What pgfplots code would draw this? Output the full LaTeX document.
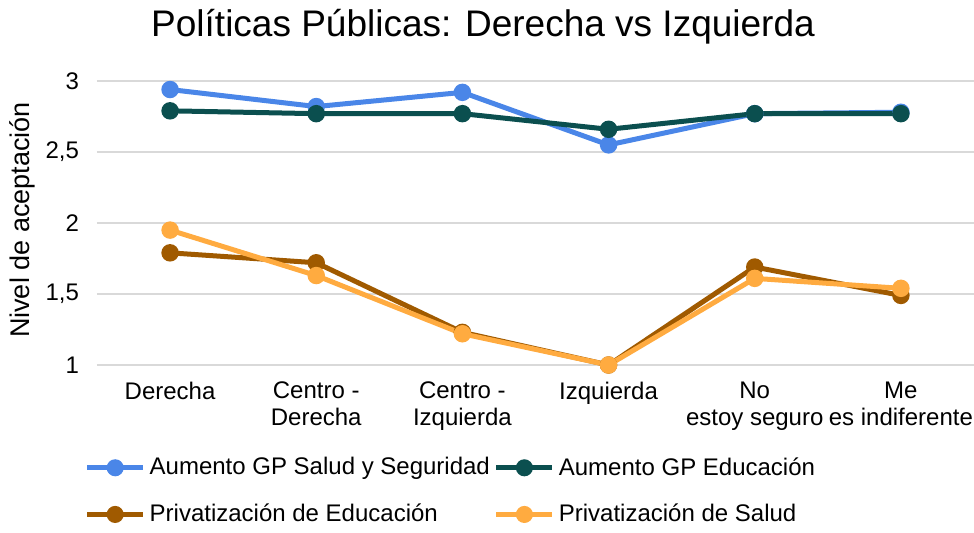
\documentclass[border=0pt]{standalone}
\usepackage{fontspec}
\setmainfont{Liberation Sans}
\usepackage{pgfplots}
\pgfplotsset{compat=1.18}
\definecolor{cblue}{HTML}{4A86E8}
\definecolor{cgreen}{HTML}{0B4F4F}
\definecolor{cbrown}{HTML}{A05A00}
\definecolor{corange}{HTML}{FFAB40}
\begin{document}
\begin{tikzpicture}[x=1pt,y=1pt]
\path[use as bounding box] (0,0) rectangle (487,266);
\node at (241.5,252.5) {\fontsize{18.5}{20}\selectfont Políticas Públicas: Derecha vs Izquierda};
\begin{axis}[
  at={(48.5pt,83.5pt)}, anchor=south west,
  scale only axis, width=438.5pt, height=142pt,
  xmin=-0.5, xmax=5.5, ymin=1, ymax=3,
  clip=false,
  axis line style={draw=none},
  major tick length=0pt,
  ytick={1,1.5,2,2.5,3},
  xtick={0,1,2,3,4,5},
  xticklabels={Derecha,{Centro -\\Derecha},{Centro -\\Izquierda},Izquierda,{No\\estoy seguro},{Me\\es indiferente}},
  xticklabel style={align=center, font=\fontsize{12}{13.5}\selectfont, anchor=north, yshift=-5pt},
  yticklabel style={font=\fontsize{12}{13.5}\selectfont, anchor=east, xshift=-5.5pt},
  /pgf/number format/assume math mode=true,
  /pgf/number format/use comma,
  ymajorgrids,
  grid style={color=black!15, line width=0.8pt},
  ylabel={Nivel de aceptación},
  ylabel style={font=\fontsize{13.5}{15}\selectfont, at={(axis description cs:-0.0855,0.51)}, anchor=center},
  every axis plot/.append style={line width=2.5pt, mark=*, mark size=3.1pt, mark options={solid}},
  legend columns=2,
  legend cell align=left,
  legend style={at={(axis description cs:-0.0145,-0.31)}, anchor=north west, draw=none, fill=none,
    font=\fontsize{12}{13.5}\selectfont, row sep=9pt, inner sep=0pt,
    /tikz/every even column/.append style={column sep=0pt},
    /tikz/every odd column/.append style={column sep=0pt}},
  legend image code/.code={\draw[mark repeat=2,mark phase=2, mark size=3pt] plot coordinates {(0pt,0pt)(14pt,0pt)(28pt,0pt)};},
]
\addplot[color=cblue] coordinates {(0,2.94) (1,2.82) (2,2.92) (3,2.55) (4,2.77) (5,2.78)};
\addlegendentry{Aumento GP Salud y Seguridad}
\addplot[color=cgreen] coordinates {(0,2.79) (1,2.77) (2,2.77) (3,2.66) (4,2.77) (5,2.77)};
\addlegendentry{Aumento GP Educación}
\addplot[color=cbrown] coordinates {(0,1.79) (1,1.72) (2,1.23) (3,1.00) (4,1.69) (5,1.49)};
\addlegendentry{Privatización de Educación}
\addplot[color=corange] coordinates {(0,1.95) (1,1.63) (2,1.22) (3,1.00) (4,1.61) (5,1.54)};
\addlegendentry{Privatización de Salud}
\end{axis}
\end{tikzpicture}
\end{document}
